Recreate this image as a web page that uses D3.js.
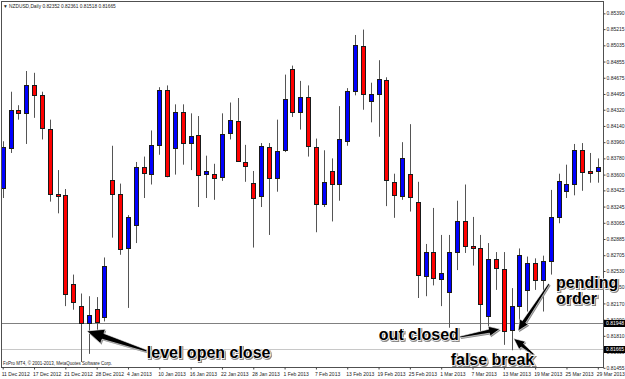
<!DOCTYPE html>
<html>
<head>
<meta charset="utf-8">
<script src="https://cdn.jsdelivr.net/npm/d3@7"></script>
<style>
  html, body { margin: 0; padding: 0; background: #fff; }
  svg { display: block; font-family: "Liberation Sans", Arial, sans-serif; }
</style>
</head>
<body>
<svg id="chart" width="625" height="379"></svg>
<script>
// NZDUSD daily bars, 11 Dec 2012 - 29 Mar 2013
const dates = [
  "2012-12-11","2012-12-12","2012-12-13","2012-12-14","2012-12-17","2012-12-18","2012-12-19","2012-12-20","2012-12-21","2012-12-24",
  "2012-12-26","2012-12-27","2012-12-28","2012-12-31","2013-01-02","2013-01-03","2013-01-04","2013-01-07","2013-01-08","2013-01-09",
  "2013-01-10","2013-01-11","2013-01-14","2013-01-15","2013-01-16","2013-01-17","2013-01-18","2013-01-21","2013-01-22","2013-01-23",
  "2013-01-24","2013-01-25","2013-01-28","2013-01-29","2013-01-30","2013-01-31","2013-02-01","2013-02-04","2013-02-05","2013-02-06",
  "2013-02-07","2013-02-08","2013-02-11","2013-02-12","2013-02-13","2013-02-14","2013-02-15","2013-02-18","2013-02-19","2013-02-20",
  "2013-02-21","2013-02-22","2013-02-25","2013-02-26","2013-02-27","2013-02-28","2013-03-01","2013-03-04","2013-03-05","2013-03-06",
  "2013-03-07","2013-03-08","2013-03-11","2013-03-12","2013-03-13","2013-03-14","2013-03-15","2013-03-18","2013-03-19","2013-03-20",
  "2013-03-21","2013-03-22","2013-03-25","2013-03-26","2013-03-27","2013-03-28","2013-03-29"
];
const open = [
  0.8345,0.8390,0.8432,0.8428,0.8459,0.8448,0.8411,0.8338,0.8337,0.8238,
  0.8214,0.8195,0.8211,0.8202,0.8354,0.8338,0.8278,0.8304,0.8368,0.8361,
  0.8393,0.8454,0.8389,0.8429,0.8395,0.8404,0.8361,0.8361,0.8357,0.8406,
  0.8420,0.8374,0.8351,0.8336,0.8391,0.8356,0.8387,0.8477,0.8430,0.8446,
  0.8391,0.8327,0.8364,0.8350,0.8397,0.8453,0.8503,0.8442,0.8450,0.8465,
  0.8352,0.8336,0.8361,0.8330,0.8247,0.8274,0.8244,0.8230,0.8274,0.8309,
  0.8281,0.8279,0.8203,0.8266,0.8255,0.8188,0.8214,0.8232,0.8262,0.8243,
  0.8264,0.8313,0.8342,0.8350,0.8387,0.8364,0.8364
];
const high = [
  0.8397,0.8452,0.8437,0.8475,0.8473,0.8452,0.8421,0.8365,0.8344,0.8249,
  0.8228,0.8225,0.8224,0.8268,0.8392,0.8350,0.8315,0.8374,0.8380,0.8409,
  0.8457,0.8459,0.8438,0.8438,0.8428,0.8425,0.8381,0.8372,0.8428,0.8440,
  0.8445,0.8393,0.8364,0.8395,0.8395,0.8421,0.8471,0.8481,0.8464,0.8459,
  0.8400,0.8387,0.8378,0.8436,0.8456,0.8515,0.8521,0.8462,0.8487,0.8468,
  0.8361,0.8396,0.8416,0.8352,0.8283,0.8323,0.8293,0.8293,0.8331,0.8349,
  0.8313,0.8293,0.8284,0.8274,0.8274,0.8234,0.8278,0.8269,0.8267,0.8270,
  0.8343,0.8361,0.8371,0.8394,0.8395,0.8384,0.8378
];
const low = [
  0.8334,0.8384,0.8421,0.8394,0.8423,0.8399,0.8330,0.8317,0.8214,0.8210,
  0.8152,0.8161,0.8184,0.8197,0.8290,0.8271,0.8212,0.8284,0.8334,0.8349,
  0.8382,0.8357,0.8360,0.8371,0.8365,0.8324,0.8334,0.8332,0.8353,0.8399,
  0.8374,0.8352,0.8279,0.8324,0.8293,0.8341,0.8385,0.8424,0.8410,0.8380,
  0.8296,0.8324,0.8308,0.8331,0.8392,0.8448,0.8432,0.8418,0.8402,0.8325,
  0.8312,0.8332,0.8319,0.8223,0.8225,0.8237,0.8214,0.8190,0.8254,0.8273,
  0.8259,0.8185,0.8191,0.8232,0.8171,0.8165,0.8191,0.8208,0.8232,0.8208,
  0.8249,0.8306,0.8334,0.8337,0.8342,0.8351,0.8351
];
const close = [
  0.8391,0.8432,0.8428,0.8460,0.8448,0.8412,0.8339,0.8336,0.8228,0.8219,
  0.8195,0.8204,0.8196,0.8259,0.8338,0.8277,0.8313,0.8368,0.8362,0.8393,
  0.8454,0.8358,0.8429,0.8395,0.8403,0.8359,0.8364,0.8356,0.8405,0.8421,
  0.8375,0.8369,0.8334,0.8392,0.8356,0.8386,0.8444,0.8429,0.8446,0.8392,
  0.8327,0.8352,0.8350,0.8400,0.8453,0.8504,0.8450,0.8450,0.8466,0.8354,
  0.8337,0.8378,0.8335,0.8248,0.8274,0.8245,0.8251,0.8274,0.8309,0.8281,
  0.8279,0.8216,0.8266,0.8256,0.8186,0.8214,0.8271,0.8262,0.8243,0.8264,
  0.8313,0.8353,0.8350,0.8387,0.8363,0.8362,0.8368
];

const priceTicks = [
  0.85390,0.85215,0.85035,0.84855,0.84675,0.84495,0.84320,0.84140,0.83960,0.83780,0.83600,0.83425,
  0.83245,0.83065,0.82885,0.82705,0.82530,0.82350,0.82170,0.81990,0.81810,0.81630,0.81455
];
const dateTicks = [
  "2012-12-11","2012-12-17","2012-12-21","2012-12-28","2013-01-04","2013-01-10","2013-01-16","2013-01-22",
  "2013-01-28","2013-02-01","2013-02-07","2013-02-13","2013-02-19","2013-02-25","2013-03-01","2013-03-07",
  "2013-03-13","2013-03-19","2013-03-25","2013-03-29"
];

const levelPrice = 0.81948;
const bidPrice = 0.81665;
const title = "\u25BC NZDUSD,Daily  0.82352 0.82361 0.81518 0.81665";
const copyright = "FxPro MT4, \u00A9 2001-2013, MetaQuotes Software Corp.";

// annotations: arrow tip anchored on a bar, tail and labels offset from the tip
const notes = [
  { date: "2012-12-27", price: 0.81864, dx: -2, tail: [60, 20], big: true,
    lines: [{ t: "level open close", dx: 60, dy: 27 }] },
  { date: "2013-03-13", price: 0.81885, dx: -4, tail: [-40, 8], big: false,
    lines: [{ t: "out closed", dx: -121, dy: 11 }] },
  { date: "2013-03-14", price: 0.81780, dx: 2, tail: [20, 16], big: false,
    lines: [{ t: "false break", dx: -63, dy: 26 }] },
  { date: "2013-03-15", price: 0.81864, dx: -1.5, tail: [31, -47], big: false,
    lines: [{ t: "pending", dx: 38, dy: -43 }, { t: "order", dx: 38, dy: -27 }] }
];

const W = 625, H = 379;
const plotLeft = 2, plotRight = 603.5, plotTop = 1.5, plotBottom = 367.5;

const svg = d3.select('#chart');
svg.append('rect').attr('width', W).attr('height', H).attr('fill', '#fff');

const x = d3.scalePoint().domain(dates).range([2.7, 597.8]);
const y = d3.scaleLinear().domain([0.81453, 0.85516]).range([368, 2]);

const bars = dates.map((d, i) => ({ date: d, o: open[i], h: high[i], l: low[i], c: close[i] }));

const defs = svg.append('defs');
defs.append('clipPath').attr('id', 'plot')
  .append('rect').attr('x', plotLeft).attr('y', plotTop)
  .attr('width', plotRight - plotLeft).attr('height', plotBottom - plotTop);
const blur = defs.append('filter').attr('id', 'soft');
blur.append('feGaussianBlur').attr('stdDeviation', 0.7);

// horizontal lines
const plot = svg.append('g').attr('clip-path', 'url(#plot)');
plot.append('line')
  .attr('x1', plotLeft).attr('x2', plotRight)
  .attr('y1', Math.round(y(bidPrice)) + 0.5).attr('y2', Math.round(y(bidPrice)) + 0.5)
  .attr('stroke', '#c8c8c8');
plot.append('line')
  .attr('x1', plotLeft).attr('x2', plotRight)
  .attr('y1', Math.round(y(levelPrice)) + 0.5).attr('y2', Math.round(y(levelPrice)) + 0.5)
  .attr('stroke', '#808080');

// candles
const cx = (d) => Math.round(x(d.date));
const candle = plot.selectAll('.candle').data(bars).join('g').attr('class', 'candle');

candle.append('line')
  .attr('x1', (d) => cx(d) + 0.5).attr('x2', (d) => cx(d) + 0.5)
  .attr('y1', (d) => y(d.h)).attr('y2', (d) => y(d.l))
  .attr('stroke', '#555');

candle.append('rect')
  .attr('x', (d) => cx(d) - 1.5)
  .attr('width', 4)
  .attr('y', (d) => Math.round(y(Math.max(d.o, d.c))) + 0.5)
  .attr('height', (d) => Math.max(1, Math.round(y(Math.min(d.o, d.c))) - Math.round(y(Math.max(d.o, d.c)))))
  .attr('fill', (d) => (d.c >= d.o ? '#0000ff' : '#ff0000'))
  .attr('stroke', '#1a1a1a')
  .attr('stroke-width', 1);

// frame
svg.append('rect')
  .attr('x', plotLeft - 0.5).attr('y', plotTop)
  .attr('width', plotRight - plotLeft + 0.5).attr('height', plotBottom - plotTop)
  .attr('fill', 'none').attr('stroke', '#505050');

// price axis
const yAxis = svg.append('g')
  .attr('transform', `translate(${plotRight},0)`)
  .call(d3.axisRight(y).tickValues(priceTicks).tickSize(2).tickPadding(1).tickFormat(d3.format('.5f')));
yAxis.select('.domain').remove();
yAxis.selectAll('line').attr('stroke', '#444');
yAxis.selectAll('text').attr('font-size', 5).attr('fill', '#222')
  .attr('font-family', '"Liberation Sans", Arial, sans-serif');

// time axis
const fmt = d3.timeFormat('%-d %b %Y');
const parse = d3.timeParse('%Y-%m-%d');
const xAxis = svg.append('g')
  .attr('transform', `translate(0,${plotBottom})`)
  .call(d3.axisBottom(x).tickValues(dateTicks).tickSize(2).tickFormat((d) => fmt(parse(d))));
xAxis.select('.domain').remove();
xAxis.selectAll('line').attr('stroke', '#444');
xAxis.selectAll('text')
  .attr('text-anchor', 'start').attr('x', -1.5).attr('y', 5)
  .attr('font-size', 5).attr('fill', '#222')
  .attr('font-family', '"Liberation Sans", Arial, sans-serif');

// price boxes on the axis
[levelPrice, bidPrice].forEach((p) => {
  const yy = Math.round(y(p)) + 0.5;
  svg.append('rect').attr('x', plotRight + 0.5).attr('y', yy - 3.5)
    .attr('width', W - plotRight).attr('height', 7).attr('fill', '#000');
  svg.append('text').attr('x', plotRight + 2.5).attr('y', yy + 1.8)
    .attr('font-size', 5).attr('fill', '#fff').text(d3.format('.5f')(p));
});

// title and copyright
svg.append('text').attr('x', 3).attr('y', 7.5).attr('font-size', 4.8).attr('fill', '#222').text(title);
svg.append('text').attr('x', 3).attr('y', 365).attr('font-size', 4.5).attr('fill', '#222').text(copyright);

// arrows and labels
function arrowPath(x1, y1, x2, y2, w0, w1, hw, hl) {
  const dx = x2 - x1, dy = y2 - y1, len = Math.hypot(dx, dy);
  const ux = dx / len, uy = dy / len, nx = -uy, ny = ux;
  const bx = x2 - ux * hl, by = y2 - uy * hl;
  const pts = [
    [x1 + nx * w0, y1 + ny * w0],
    [bx + nx * w1, by + ny * w1],
    [bx + nx * hw, by + ny * hw],
    [x2, y2],
    [bx - nx * hw, by - ny * hw],
    [bx - nx * w1, by - ny * w1],
    [x1 - nx * w0, y1 - ny * w0]
  ];
  return d3.line()(pts) + 'Z';
}

const ann = svg.append('g');
notes.forEach((n) => {
  const tx = x(n.date) + n.dx, ty = y(n.price);
  const sx = tx + n.tail[0], sy = ty + n.tail[1];
  const path = n.big
    ? arrowPath(sx, sy, tx, ty, 1, 3, 7.5, 17)
    : arrowPath(sx, sy, tx, ty, 0.8, 2, 5, 11);
  ann.append('path').attr('d', path).attr('transform', 'translate(1,1.2)')
    .attr('fill', '#888').attr('filter', 'url(#soft)');
  ann.append('path').attr('d', path).attr('fill', '#000')
    .attr('stroke', '#fff').attr('stroke-width', 0.6);

  n.lines.forEach((l) => {
    ann.append('text')
      .attr('x', tx + l.dx + 1).attr('y', ty + l.dy + 1.2)
      .attr('font-size', 16).attr('font-weight', 'bold')
      .attr('fill', '#888').attr('stroke', '#888').attr('stroke-width', 2)
      .attr('filter', 'url(#soft)').text(l.t);
    ann.append('text')
      .attr('x', tx + l.dx).attr('y', ty + l.dy)
      .attr('font-size', 16).attr('font-weight', 'bold')
      .attr('fill', '#000').attr('stroke', '#fff').attr('stroke-width', 1.6)
      .attr('paint-order', 'stroke').text(l.t);
  });
});
</script>
</body>
</html>
